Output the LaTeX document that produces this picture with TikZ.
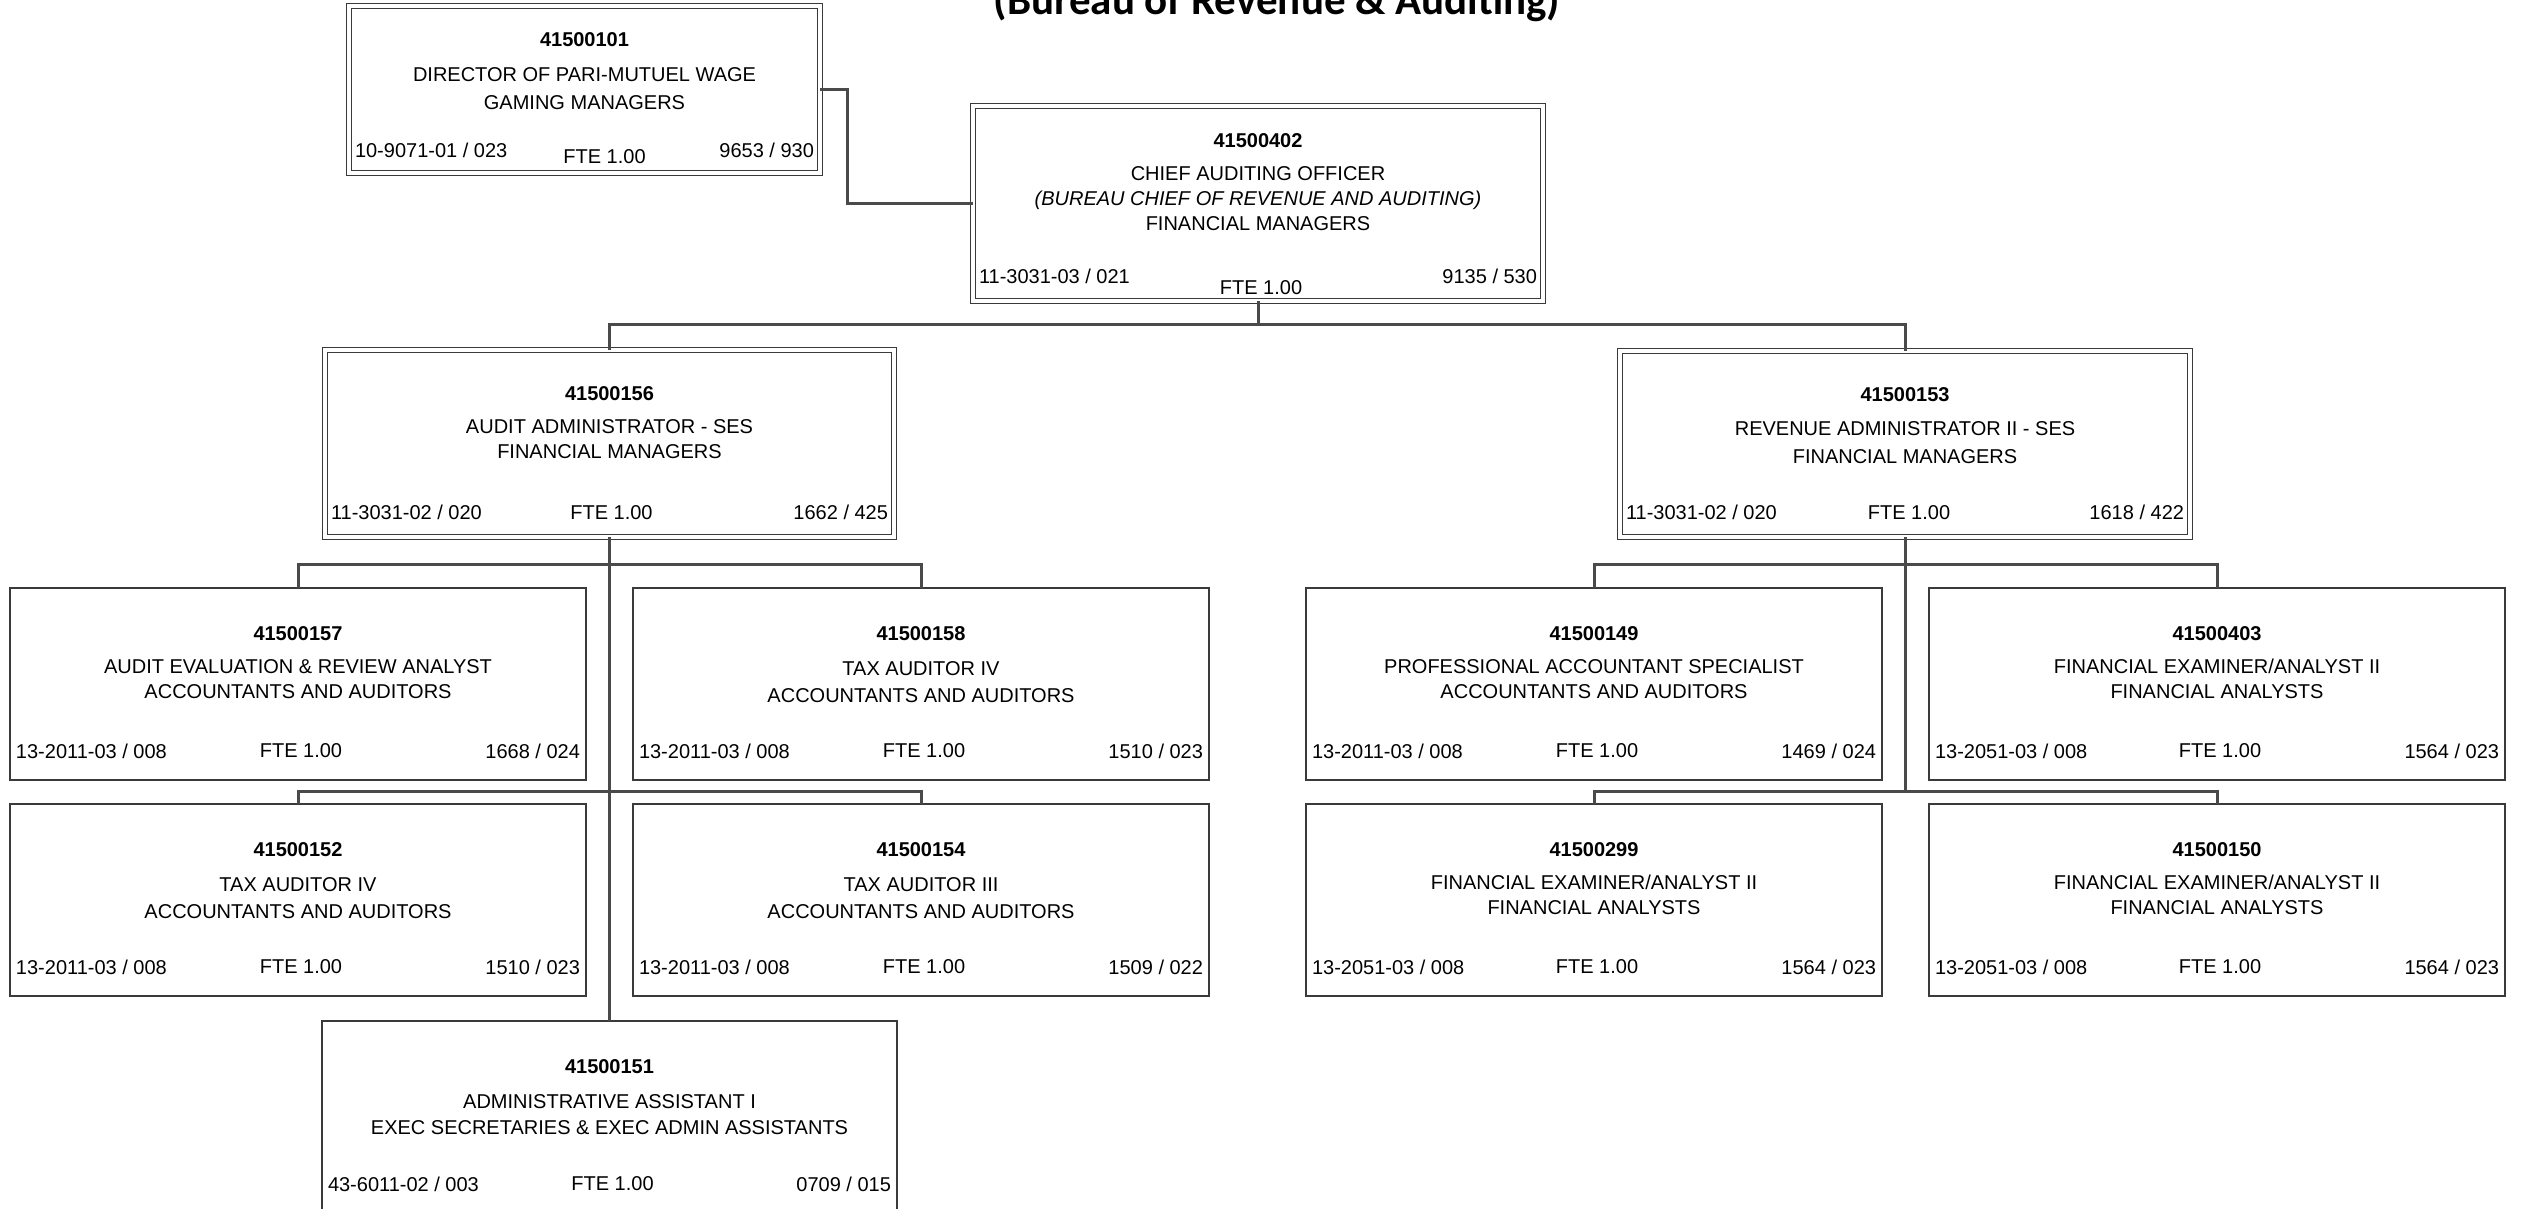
\documentclass[tikz,border=0pt]{standalone}
\usepackage{fontspec}
\setmainfont{Liberation Sans}
\newfontfamily\titlefont{Carlito}
\usetikzlibrary{positioning}
\definecolor{boxline}{HTML}{3A3A3A}
\definecolor{connline}{HTML}{4A4A4A}

% texts of one position: number and titles on top, codes along the bottom
\newcommand{\postext}[9]{%
  \node[titles, below=#6 of #1.north] (#1-title) {\textbf{#2}\\#3};
  \node[codes, above right=#7 and 6pt of #1.south west] (#1-code) {#4};
  \node[codes, above left=#7 and 6pt of #1.south east] (#1-grade) {#5};
  \node[codes, above=#8 of #1.south, xshift=#9] (#1-fte) {FTE 1.00};
}

\begin{document}
\begin{tikzpicture}[
  x=1pt, y=-1pt,
  dblbox/.style={
    rectangle, draw=boxline, line width=1.2pt,
    double=white, double distance=3.6pt,
    inner sep=0pt, outer sep=0pt
  },
  posbox/.style={
    rectangle, draw=boxline, line width=1.5pt,
    minimum width=576pt, minimum height=192pt,
    inner sep=0pt, outer sep=0pt
  },
  titles/.style={align=center, inner sep=0pt, outer sep=0pt, font=\fontsize{20}{25}\selectfont},
  codes/.style={inner sep=0pt, outer sep=0pt, text depth=0pt, font=\fontsize{20}{25}\selectfont},
  conn/.style={draw=connline, line width=3pt}
]
\useasboundingbox (0,0) rectangle (2521,1209);

% Heading (cut by the top edge)
\node[anchor=base, inner sep=0pt, font=\titlefont\bfseries\fontsize{43}{50}\selectfont] (heading) at (1277,15) {(Bureau of Revenue \& Auditing)};

% Boxes
\node[dblbox, minimum width=471pt, minimum height=167pt] (dir) at (584.5,89.5) {};
\node[dblbox, minimum width=570pt, minimum height=195pt] (chief) at (1258,203.5) {};
\node[dblbox, minimum width=569pt, minimum height=187pt] (audadm) at (609.5,443.5) {};
\node[dblbox, minimum width=570pt, minimum height=186pt] (revadm) at (1905,444) {};
\node[posbox] (p157) at (298,684) {};
\node[posbox] (p158) at (921,684) {};
\node[posbox] (p152) at (298,900) {};
\node[posbox] (p154) at (921,900) {};
\node[posbox, minimum width=575pt] (p151) at (609.5,1117) {};
\node[posbox] (p149) at (1594,684) {};
\node[posbox] (p403) at (2217,684) {};
\node[posbox] (p299) at (1594,900) {};
\node[posbox] (p150) at (2217,900) {};

% Texts
\postext{dir}{41500101}{[10pt]DIRECTOR OF PARI-MUTUEL WAGE\\[3pt]GAMING MANAGERS}{10-9071-01 / 023}{9653 / 930}{27pt}{15pt}{9pt}{20pt}
\postext{chief}{41500402}{[8pt]CHIEF AUDITING OFFICER\\\textit{(BUREAU CHIEF OF REVENUE AND AUDITING)}\\FINANCIAL MANAGERS}{11-3031-03 / 021}{9135 / 530}{28pt}{18pt}{7pt}{3pt}
\postext{audadm}{41500156}{[8pt]AUDIT ADMINISTRATOR - SES\\FINANCIAL MANAGERS}{11-3031-02 / 020}{1662 / 425}{37pt}{18pt}{18pt}{2pt}
\postext{revadm}{41500153}{[9pt]REVENUE ADMINISTRATOR II - SES\\[3pt]FINANCIAL MANAGERS}{11-3031-02 / 020}{1618 / 422}{37pt}{18pt}{18pt}{4pt}
\postext{p157}{41500157}{[8pt]AUDIT EVALUATION \& REVIEW ANALYST\\ACCOUNTANTS AND AUDITORS}{13-2011-03 / 008}{1668 / 024}{39pt}{22pt}{23pt}{3pt}
\postext{p158}{41500158}{[10pt]TAX AUDITOR IV\\[2pt]ACCOUNTANTS AND AUDITORS}{13-2011-03 / 008}{1510 / 023}{39pt}{22pt}{23pt}{3pt}
\postext{p152}{41500152}{[10pt]TAX AUDITOR IV\\[2pt]ACCOUNTANTS AND AUDITORS}{13-2011-03 / 008}{1510 / 023}{39pt}{22pt}{23pt}{3pt}
\postext{p154}{41500154}{[10pt]TAX AUDITOR III\\[2pt]ACCOUNTANTS AND AUDITORS}{13-2011-03 / 008}{1509 / 022}{39pt}{22pt}{23pt}{3pt}
\postext{p151}{41500151}{[10pt]ADMINISTRATIVE ASSISTANT I\\[1pt]EXEC SECRETARIES \& EXEC ADMIN ASSISTANTS}{43-6011-02 / 003}{0709 / 015}{39pt}{22pt}{23pt}{3pt}
\postext{p149}{41500149}{[8pt]PROFESSIONAL ACCOUNTANT SPECIALIST\\ACCOUNTANTS AND AUDITORS}{13-2011-03 / 008}{1469 / 024}{39pt}{22pt}{23pt}{3pt}
\postext{p403}{41500403}{[8pt]FINANCIAL EXAMINER/ANALYST II\\FINANCIAL ANALYSTS}{13-2051-03 / 008}{1564 / 023}{39pt}{22pt}{23pt}{3pt}
\postext{p299}{41500299}{[8pt]FINANCIAL EXAMINER/ANALYST II\\FINANCIAL ANALYSTS}{13-2051-03 / 008}{1564 / 023}{39pt}{22pt}{23pt}{3pt}
\postext{p150}{41500150}{[8pt]FINANCIAL EXAMINER/ANALYST II\\FINANCIAL ANALYSTS}{13-2051-03 / 008}{1564 / 023}{39pt}{22pt}{23pt}{3pt}

% Reporting lines
\coordinate (topbar) at (1258,324);
\coordinate (lbar1) at (609.5,564);
\coordinate (lbar2) at (609.5,791);
\coordinate (rbar1) at (1905,564);
\coordinate (rbar2) at (1905,791);
\draw[conn] (dir.east) -- ++(27,0) |- (chief.west);
\draw[conn] (chief.south) -- (topbar);
\draw[conn] (audadm.north) |- (topbar) -| (revadm.north);
\draw[conn] (audadm.south) -- (p151.north);
\draw[conn] (p157.north) |- (lbar1) -| (p158.north);
\draw[conn] (p152.north) |- (lbar2) -| (p154.north);
\draw[conn] (revadm.south) -- (rbar2);
\draw[conn] (p149.north) |- (rbar1) -| (p403.north);
\draw[conn] (p299.north) |- (rbar2) -| (p150.north);

\end{tikzpicture}
\end{document}
